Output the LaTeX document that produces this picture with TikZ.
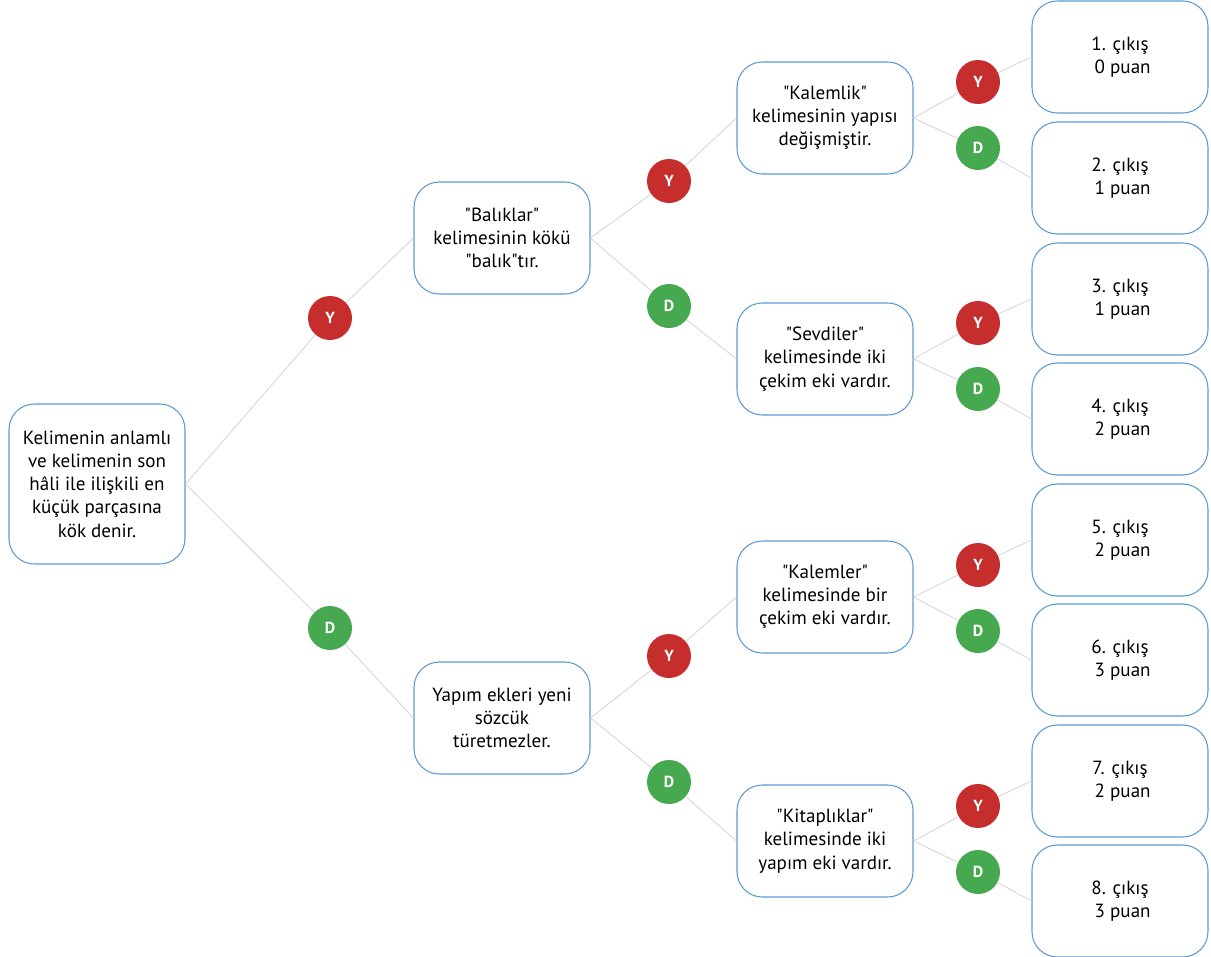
\documentclass[tikz,border=0pt]{standalone}
\usepackage{fontspec}
\setmainfont{PT Sans}
\definecolor{kenarmavi}{HTML}{5B9BD5}
\definecolor{evetkirmizi}{HTML}{C62D2D}
\definecolor{hayiryesil}{HTML}{46A94F}
\definecolor{baggri}{HTML}{D4D4D4}
\newcommand{\tq}{\textquotedbl}
\begin{document}
\begin{tikzpicture}[x=0.75pt, y=-0.75pt,
    kutu/.style={draw=kenarmavi, line width=0.8pt, rounded corners=19pt, fill=white,
        minimum width=132pt, minimum height=84pt, align=center, inner sep=2pt,
        font=\fontsize{14.3}{17.4}\selectfont},
    evet/.style={circle, fill=evetkirmizi, minimum size=33pt, inner sep=0pt,
        text=white, font=\bfseries\fontsize{12}{12}\selectfont},
    hayir/.style={evet, fill=hayiryesil},
    bag/.style={draw=baggri, line width=0.6pt}]
    \useasboundingbox (0,0) rectangle (1211,957);
    % Root statement
    \node[kutu, minimum height=120pt] (kok) at (97,484) {Kelimenin anlamlı\\ve kelimenin son\\hâli ile ilişkili en\\küçük parçasına\\kök denir.};
    % First level
    \node[evet] (y1) at (330,318) {Y};
    \node[hayir] (d1) at (330,628) {D};
    \node[kutu] (bal) at (502,238) {\tq Balıklar\tq\\kelimesinin kökü\\\tq balık\tq tır.};
    \node[kutu] (yap) at (502,718) {Yapım ekleri yeni\\sözcük\\türetmezler.};
    % Second level
    \node[evet] (y2) at (669,181) {Y};
    \node[hayir] (d2) at (669,306) {D};
    \node[evet] (y3) at (669,656) {Y};
    \node[hayir] (d3) at (669,782) {D};
    \node[kutu] (kal) at (825,118) {\tq Kalemlik\tq\\kelimesinin yapısı\\değişmiştir.};
    \node[kutu] (sev) at (825,359) {\tq Sevdiler\tq\\kelimesinde iki\\çekim eki vardır.};
    \node[kutu] (kle) at (825,597) {\tq Kalemler\tq\\kelimesinde bir\\çekim eki vardır.};
    \node[kutu] (kit) at (825,841) {\tq Kitaplıklar\tq\\kelimesinde iki\\yapım eki vardır.};
    % Exits
    \foreach \n/\yy/\p in {1/57/0, 2/178/1, 3/299/1, 4/419/2, 5/540/2, 6/660/3, 7/781/2, 8/901/3}
        \node[kutu] (c\n) at (1120,\yy) {\n. çıkış\\\hspace*{4pt}\p\ puan};
    % Third level answers
    \foreach \n/\yy in {1/82, 3/323, 5/565, 7/806}
        \node[evet] (e\n) at (978,\yy) {Y};
    \foreach \n/\yy in {2/148, 4/389, 6/631, 8/872}
        \node[hayir] (e\n) at (978,\yy) {D};
    % Connectors
    \draw[bag] (kok.east) -- (y1) -- (bal.west);
    \draw[bag] (kok.east) -- (d1) -- (yap.west);
    \draw[bag] (bal.east) -- (y2) -- (kal.west);
    \draw[bag] (bal.east) -- (d2) -- (sev.west);
    \draw[bag] (yap.east) -- (y3) -- (kle.west);
    \draw[bag] (yap.east) -- (d3) -- (kit.west);
    \draw[bag] (kal.east) -- (e1) -- (c1.west);
    \draw[bag] (kal.east) -- (e2) -- (c2.west);
    \draw[bag] (sev.east) -- (e3) -- (c3.west);
    \draw[bag] (sev.east) -- (e4) -- (c4.west);
    \draw[bag] (kle.east) -- (e5) -- (c5.west);
    \draw[bag] (kle.east) -- (e6) -- (c6.west);
    \draw[bag] (kit.east) -- (e7) -- (c7.west);
    \draw[bag] (kit.east) -- (e8) -- (c8.west);
\end{tikzpicture}
\end{document}
